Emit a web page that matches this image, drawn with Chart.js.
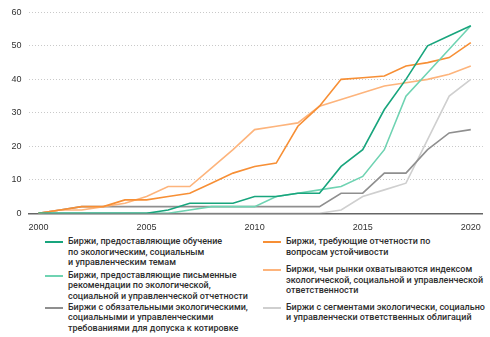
<!DOCTYPE html>
<html>
<head>
<meta charset="utf-8">
<script src="https://cdn.jsdelivr.net/npm/chart.js@4/dist/chart.umd.min.js"></script>
<style>
  html, body { margin: 0; padding: 0; background: #fff; }
  #wrap { position: relative; width: 490px; height: 337px; overflow: hidden; }
  #plot { position: absolute; left: 0; top: 0; width: 490px; height: 234px; }
  .lg { position: absolute; font-family: "Roboto", "Liberation Sans", sans-serif; font-weight: 500;
        font-size: 9px; line-height: 10.6px; color: #2e2e2e; white-space: nowrap; }
  .lg span.mk { position: absolute; left: -23px; top: 5px; width: 18px; height: 2px; }
</style>
</head>
<body>
<div id="wrap">
  <div id="plot"><canvas id="c"></canvas></div>
  <div id="legend"></div>
</div>
<script>
// Years on the horizontal axis and the labelled ticks
const years = [2000,2001,2002,2003,2004,2005,2006,2007,2008,2009,2010,
               2011,2012,2013,2014,2015,2016,2017,2018,2019,2020];
const yearTicks = [2000, 2005, 2010, 2015, 2020];

// Number of exchanges per year, one array per series
const esgTraining   = [0,0,0,0,0,0,1,3,3,3,5,5,6,6,14,19,31,40,50,53,56];
const esgGuidance   = [0,0,0,0,0,0,0,1,2,2,2,5,6,7,8,11,19,35,42,49,56];
const listingRules  = [0,1,2,2,2,2,2,2,2,2,2,2,2,2,6,6,12,12,19,24,25];
const reportingReq  = [0,1,2,2,4,4,5,6,9,12,14,15,26,32,40,40.5,41,44,45,46.5,51];
const esgIndex      = [0,1,1,2,3,5,8,8,13.5,19,25,26,27,32,34,36,38,39,40,41.5,44];
const bondSegments  = [0,0,0,0,0,0,0,0,0,0,0,0,0,0,1,5,7,9,22,35,40];

const seriesLabels = [
  ["Биржи, предоставляющие обучение", "по экологическим, социальным", "и управленческим темам"],
  ["Биржи, предоставляющие письменные", "рекомендации по экологической,", "социальной и управленческой отчетности"],
  ["Биржи с обязательными экологическими,", "социальными и управленческими", "требованиями для допуска к котировке"],
  ["Биржи, требующие отчетности по", "вопросам устойчивости"],
  ["Биржи, чьи рынки охватываются индексом", "экологической, социальной и управленческой", "ответственности"],
  ["Биржи с сегментами экологически, социально", "и управленчески ответственных облигаций"]
];
const seriesColors = ["#18a57d", "#6fd3b2", "#8f8f8f", "#f78f35", "#fdb47c", "#cfcfcf"];
const seriesValues = [esgTraining, esgGuidance, listingRules, reportingReq, esgIndex, bondSegments];

const toPoints = vals => vals.map((v, i) => ({ x: years[i], y: v }));

// Draw order: grey series at the back, green on top
const drawOrder = [5, 2, 4, 3, 1, 0];

const datasets = seriesValues.map((vals, i) => ({
  label: seriesLabels[i].join(" "),
  data: toPoints(vals),
  borderColor: seriesColors[i],
  backgroundColor: seriesColors[i],
  borderWidth: 1.6,
  pointRadius: 0,
  tension: 0,
  fill: false,
  order: drawOrder.indexOf(i) * -1
}));

const tickFont = { family: "'Liberation Sans', Arial, sans-serif", size: 9 };

new Chart(document.getElementById("c"), {
  type: "line",
  data: { datasets },
  options: {
    responsive: true,
    maintainAspectRatio: false,
    animation: false,
    layout: { padding: { top: 11, right: 7, left: 0, bottom: 0 } },
    plugins: { legend: { display: false }, tooltip: { enabled: false } },
    scales: {
      x: {
        type: "linear",
        min: 1999.54,
        max: 2020.56,
        afterBuildTicks: s => { s.ticks = yearTicks.map(v => ({ value: v })); },
        afterFit: s => { s.height = 20.7; },
        grid: { display: false, drawTicks: false },
        border: { display: true, color: "#666", width: 1.5 },
        ticks: { color: "#333", font: tickFont, padding: 9, maxRotation: 0,
                 callback: v => String(v) }
      },
      y: {
        min: 0,
        max: 60,
        afterFit: s => { s.width = 28.5; },
        ticks: { stepSize: 10, color: "#333", font: tickFont, padding: 7 },
        grid: {
          drawTicks: false,
          color: ctx => ctx.tick && ctx.tick.value === 0 ? "rgba(0,0,0,0)" : "#c9c9c9",
          lineWidth: 1
        },
        border: { display: false, dash: [1, 2] }
      }
    }
  }
});

// Legend: two columns of multi-line entries
const legendPos = [
  { left: 68, top: 236 }, { left: 68, top: 269.5 }, { left: 68, top: 301.5 },
  { left: 286, top: 236 }, { left: 286, top: 264 }, { left: 286, top: 301.5 }
];
const legend = document.getElementById("legend");
seriesLabels.forEach((lines, i) => {
  const d = document.createElement("div");
  d.className = "lg";
  d.style.left = legendPos[i].left + "px";
  d.style.top = legendPos[i].top + "px";
  const mark = document.createElement("span");
  mark.className = "mk";
  mark.style.background = seriesColors[i];
  d.appendChild(mark);
  lines.forEach((t, k) => {
    if (k) d.appendChild(document.createElement("br"));
    d.appendChild(document.createTextNode(t));
  });
  legend.appendChild(d);
});
</script>
</body>
</html>
